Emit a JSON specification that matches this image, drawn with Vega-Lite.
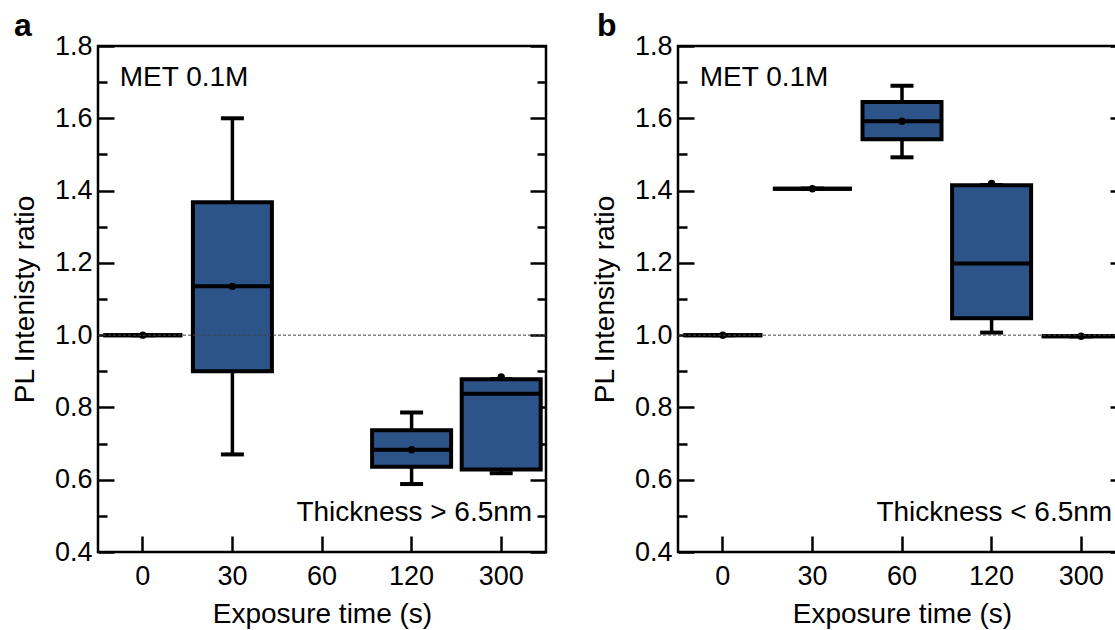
{
  "$schema": "https://vega.github.io/schema/vega-lite/v6.json",
  "padding": {"left": 10, "top": 8, "right": 0, "bottom": 0},
  "spacing": 132,
  "bounds": "flush",
  "config": {
    "font": "Liberation Sans",
    "view": {"stroke": "black", "strokeWidth": 2.5},
    "axis": {"domain": false, "grid": false, "labelFont": "Liberation Sans", "labelFontSize": 27, "labelColor": "black", "titleFont": "Liberation Sans", "titleFontSize": 28, "titleFontWeight": "normal", "titleColor": "black", "tickColor": "black", "tickWidth": 2.5, "labelOverlap": false},
    "axisLeft": {"values": [0.4, 0.5, 0.6, 0.7, 0.8, 0.9, 1.0, 1.1, 1.2, 1.3, 1.4, 1.5, 1.6, 1.7, 1.8], "tickSize": {"condition": {"test": "round(datum.value*10)%2==0", "value": -16}, "value": -9}, "labelExpr": "round(datum.value*10)%2==0 ? format(datum.value,'.1f') : ''", "labelPadding": 22, "titlePadding": 15}
  },
  "datasets": {
    "a": [
      {"time": "0", "lo": 1.0, "q1": 1.0, "med": 1.0, "q3": 1.0, "hi": 1.0, "mean": 1.0},
      {"time": "30", "lo": 0.67, "q1": 0.9, "med": 1.135, "q3": 1.368, "hi": 1.6, "mean": 1.135},
      {"time": "120", "lo": 0.588, "q1": 0.636, "med": 0.683, "q3": 0.737, "hi": 0.786, "mean": 0.683},
      {"time": "300", "lo": 0.618, "q1": 0.628, "med": 0.838, "q3": 0.878, "hi": 0.878, "mean": 0.884}
    ],
    "b": [
      {"time": "0", "lo": 1.0, "q1": 1.0, "med": 1.0, "q3": 1.0, "hi": 1.0, "mean": 1.0},
      {"time": "30", "lo": 1.405, "q1": 1.405, "med": 1.405, "q3": 1.405, "hi": 1.405, "mean": 1.405},
      {"time": "60", "lo": 1.492, "q1": 1.542, "med": 1.592, "q3": 1.645, "hi": 1.69, "mean": 1.592},
      {"time": "120", "lo": 1.007, "q1": 1.047, "med": 1.198, "q3": 1.415, "hi": 1.415, "mean": 1.42},
      {"time": "300", "lo": 0.997, "q1": 0.997, "med": 0.997, "q3": 0.997, "hi": 0.997, "mean": 0.997}
    ],
    "ref": [{"ratio": 1.0}],
    "labelsA": [{"text": "MET 0.1M", "pos": "0", "y": 1.712}],
    "thickA": [{"text": "Thickness > 6.5nm", "pos": "300", "y": 0.508}],
    "labelsB": [{"text": "MET 0.1M", "pos": "0", "y": 1.712}],
    "thickB": [{"text": "Thickness < 6.5nm", "pos": "300", "y": 0.508}]
  },
  "hconcat": [
    {
      "width": 448,
      "height": 506,
      "title": {"text": "a", "anchor": "start", "frame": "group", "dx": -84, "fontSize": 32, "fontWeight": "bold", "font": "Liberation Sans", "color": "black", "offset": -36, "baseline": "alphabetic"},
      "resolve": {"axis": {"y": "independent"}},
      "layer": [
        {
          "data": {"name": "a"},
          "encoding": {
            "x": {"field": "time", "type": "ordinal", "scale": {"domain": ["0", "30", "60", "120", "300"], "paddingInner": 0, "paddingOuter": 0}, "axis": {"orient": "bottom", "title": "Exposure time (s)", "tickSize": -16, "labelPadding": 27, "labelAngle": 0, "titlePadding": 11}}
          },
          "layer": [
            {"mark": {"type": "rule", "color": "black", "strokeWidth": 3.5, "opacity": 1}, "encoding": {"y": {"field": "lo", "type": "quantitative", "scale": {"domain": [0.4, 1.8], "nice": false, "zero": false}, "axis": {"orient": "left", "title": "PL Intenisty ratio"}}, "y2": {"field": "hi"}}},
            {"mark": {"type": "tick", "color": "black", "size": 23, "thickness": 4, "opacity": 1}, "encoding": {"y": {"field": "lo", "type": "quantitative", "axis": {"orient": "left", "title": "PL Intenisty ratio"}}}},
            {"mark": {"type": "tick", "color": "black", "size": 23, "thickness": 4, "opacity": 1}, "encoding": {"y": {"field": "hi", "type": "quantitative", "axis": {"orient": "left", "title": "PL Intenisty ratio"}}}},
            {"mark": {"type": "bar", "fill": "#2c5489", "stroke": "black", "strokeWidth": 4, "size": 79, "opacity": 1}, "encoding": {"y": {"field": "q1", "type": "quantitative", "axis": {"orient": "left", "title": "PL Intenisty ratio"}}, "y2": {"field": "q3"}}},
            {"mark": {"type": "tick", "color": "black", "size": 79, "thickness": 4, "opacity": 1}, "encoding": {"y": {"field": "med", "type": "quantitative", "axis": {"orient": "left", "title": "PL Intenisty ratio"}}}},
            {"mark": {"type": "point", "filled": true, "color": "black", "size": 55, "opacity": 1}, "encoding": {"y": {"field": "mean", "type": "quantitative", "axis": {"orient": "left", "title": "PL Intenisty ratio"}}}},
            {"data": {"name": "labelsA"}, "mark": {"type": "text", "align": "left", "baseline": "middle", "fontSize": 28, "dx": -23, "color": "black"}, "encoding": {"x": {"field": "pos", "type": "ordinal"}, "y": {"field": "y", "type": "quantitative", "axis": {"orient": "left", "title": "PL Intenisty ratio"}}, "text": {"field": "text"}}},
            {"data": {"name": "thickA"}, "mark": {"type": "text", "align": "right", "baseline": "middle", "fontSize": 28, "dx": 31, "color": "black"}, "encoding": {"x": {"field": "pos", "type": "ordinal"}, "y": {"field": "y", "type": "quantitative", "axis": {"orient": "left", "title": "PL Intenisty ratio"}}, "text": {"field": "text"}}}
          ]
        },
        {
          "data": {"name": "ref"},
          "mark": {"type": "rule", "color": "#444444", "strokeWidth": 1, "strokeDash": [3, 2]},
          "encoding": {"y": {"field": "ratio", "type": "quantitative", "axis": {"orient": "right", "title": null, "labels": false, "values": [0.4, 0.5, 0.6, 0.7, 0.8, 0.9, 1.0, 1.1, 1.2, 1.3, 1.4, 1.5, 1.6, 1.7, 1.8], "tickSize": {"condition": {"test": "round(datum.value*10)%2==0", "value": -16}, "value": -9}}}}
        }
      ]
    },
    {
      "width": 448,
      "height": 506,
      "title": {"text": "b", "anchor": "start", "frame": "group", "dx": -81, "fontSize": 32, "fontWeight": "bold", "font": "Liberation Sans", "color": "black", "offset": -36, "baseline": "alphabetic"},
      "resolve": {"axis": {"y": "independent"}},
      "layer": [
        {
          "data": {"name": "b"},
          "encoding": {
            "x": {"field": "time", "type": "ordinal", "scale": {"domain": ["0", "30", "60", "120", "300"], "paddingInner": 0, "paddingOuter": 0}, "axis": {"orient": "bottom", "title": "Exposure time (s)", "tickSize": -16, "labelPadding": 27, "labelAngle": 0, "titlePadding": 11}}
          },
          "layer": [
            {"mark": {"type": "rule", "color": "black", "strokeWidth": 3.5, "opacity": 1}, "encoding": {"y": {"field": "lo", "type": "quantitative", "scale": {"domain": [0.4, 1.8], "nice": false, "zero": false}, "axis": {"orient": "left", "title": "PL Intensity ratio"}}, "y2": {"field": "hi"}}},
            {"mark": {"type": "tick", "color": "black", "size": 23, "thickness": 4, "opacity": 1}, "encoding": {"y": {"field": "lo", "type": "quantitative", "axis": {"orient": "left", "title": "PL Intensity ratio"}}}},
            {"mark": {"type": "tick", "color": "black", "size": 23, "thickness": 4, "opacity": 1}, "encoding": {"y": {"field": "hi", "type": "quantitative", "axis": {"orient": "left", "title": "PL Intensity ratio"}}}},
            {"mark": {"type": "bar", "fill": "#2c5489", "stroke": "black", "strokeWidth": 4, "size": 79, "opacity": 1}, "encoding": {"y": {"field": "q1", "type": "quantitative", "axis": {"orient": "left", "title": "PL Intensity ratio"}}, "y2": {"field": "q3"}}},
            {"mark": {"type": "tick", "color": "black", "size": 79, "thickness": 4, "opacity": 1}, "encoding": {"y": {"field": "med", "type": "quantitative", "axis": {"orient": "left", "title": "PL Intensity ratio"}}}},
            {"mark": {"type": "point", "filled": true, "color": "black", "size": 55, "opacity": 1}, "encoding": {"y": {"field": "mean", "type": "quantitative", "axis": {"orient": "left", "title": "PL Intensity ratio"}}}},
            {"data": {"name": "labelsB"}, "mark": {"type": "text", "align": "left", "baseline": "middle", "fontSize": 28, "dx": -23, "color": "black"}, "encoding": {"x": {"field": "pos", "type": "ordinal"}, "y": {"field": "y", "type": "quantitative", "axis": {"orient": "left", "title": "PL Intensity ratio"}}, "text": {"field": "text"}}},
            {"data": {"name": "thickB"}, "mark": {"type": "text", "align": "right", "baseline": "middle", "fontSize": 28, "dx": 31, "color": "black"}, "encoding": {"x": {"field": "pos", "type": "ordinal"}, "y": {"field": "y", "type": "quantitative", "axis": {"orient": "left", "title": "PL Intensity ratio"}}, "text": {"field": "text"}}}
          ]
        },
        {
          "data": {"name": "ref"},
          "mark": {"type": "rule", "color": "#444444", "strokeWidth": 1, "strokeDash": [3, 2]},
          "encoding": {"y": {"field": "ratio", "type": "quantitative", "axis": {"orient": "right", "title": null, "labels": false, "values": [0.4, 0.5, 0.6, 0.7, 0.8, 0.9, 1.0, 1.1, 1.2, 1.3, 1.4, 1.5, 1.6, 1.7, 1.8], "tickSize": {"condition": {"test": "round(datum.value*10)%2==0", "value": -16}, "value": -9}}}}
        }
      ]
    }
  ]
}
